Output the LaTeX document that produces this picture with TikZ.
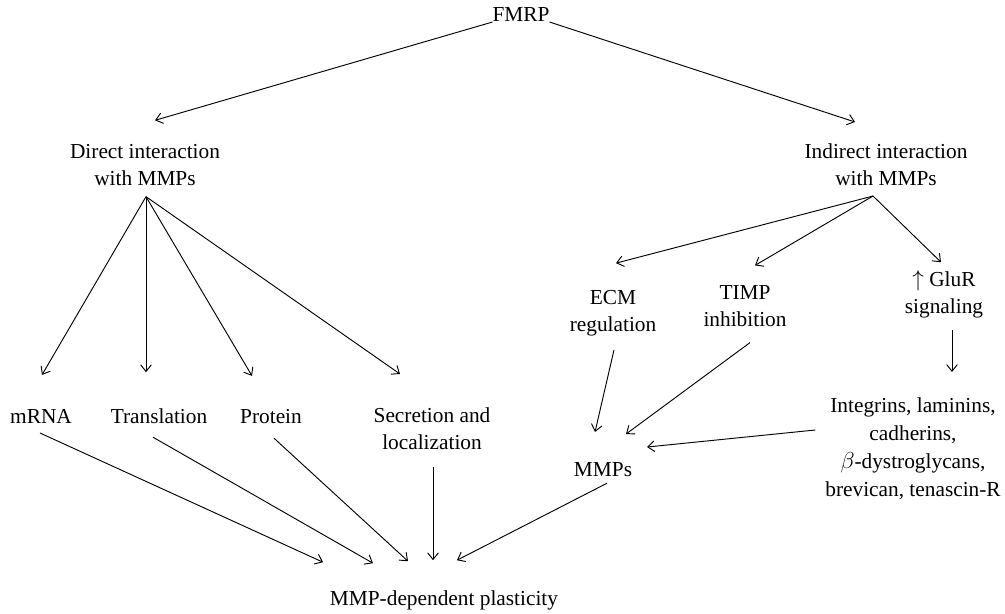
\documentclass[tikz,border=0pt]{standalone}
\usepackage{fontspec}
\setmainfont{Liberation Serif}
\usetikzlibrary{arrows.meta}

\begin{document}
\begin{tikzpicture}[x=0.75pt, y=-0.75pt,
    box/.style={inner sep=0pt, outer sep=0pt, align=center,
      font=\fontsize{16}{20.25}\selectfont},
    link/.style={-{Straight Barb[length=5pt, width=8pt]}, line width=0.7pt}]
  \useasboundingbox (0, 0) rectangle (1005, 613);
  % nodes
  \node [box, anchor=base] (fmrp) at (521, 22) {FMRP};
  \node [box] (direct) at (145, 165) {Direct interaction\\with MMPs};
  \node [box] (indirect) at (886, 165) {Indirect interaction\\with MMPs};
  \node [box, anchor=base] (mrna) at (41, 423) {mRNA};
  \node [box, anchor=base] (transl) at (159, 423) {Translation};
  \node [box, anchor=base] (protein) at (271, 423) {Protein};
  \node [box] (secr) at (432, 429) {Secretion and\\localization};
  \node [box] (ecm) at (613, 313) {ECM\\regulation};
  \node [box] (timp) at (745, 306) {TIMP\\inhibition};
  \node [box] (glur) at (944, 294) {$\uparrow$ GluR\\signaling};
  \node [box, font=\fontsize{16}{21}\selectfont] (integ) at (913, 449)
    {Integrins, laminins,\\cadherins,\\$\beta$-dystroglycans,\\brevican, tenascin-R};
  \node [box, anchor=base] (mmps) at (603, 476) {MMPs};
  \node [box, anchor=base] (plast) at (444, 605) {MMP-dependent plasticity};
  % FMRP
  \draw [link] (fmrp.south west) -- ([shift={(10, -24)}]direct.north);
  \draw [link] (fmrp.south east) -- ([shift={(-31, -22)}]indirect.north);
  % direct branch
  \coordinate (dsplit) at ([shift={(1, 11)}]direct.south);
  \draw [link] (dsplit) -- ([shift={(1, -34)}]mrna.north);
  \draw [link] (dsplit) -- ([shift={(-13, -36)}]transl.north);
  \draw [link] (dsplit) -- ([shift={(-19, -33)}]protein.north);
  \draw [link] (dsplit) -- ([shift={(-32, -34)}]secr.north);
  % indirect branch
  \coordinate (isplit) at ([shift={(-13, 10)}]indirect.south);
  \draw [link] (isplit) -- ([shift={(3, -27)}]ecm.north);
  \draw [link] (isplit) -- ([shift={(10, -20)}]timp.north);
  \draw [link] (isplit) -- ([shift={(-3, -8)}]glur.north);
  \draw [link] ([shift={(8, 12)}]glur.south) -- ([shift={(8, -26)}]glur.south |- integ.north);
  \draw [link] ([shift={(1, 14)}]ecm.south) -- ([shift={(-8, -30)}]mmps.north);
  \draw [link] ([shift={(5, 16)}]timp.south) -- ([shift={(23, -28)}]mmps.north);
  \draw [link] ([shift={(-10, -19)}]integ.west) -- ([shift={(15, -15)}]mmps.north east);
  % to plasticity
  \draw [link] ([shift={(-1, 10)}]mrna.south) -- ([shift={(-121, -28)}]plast.north);
  \draw [link] ([shift={(-6, 14)}]transl.south) -- ([shift={(-71, -27)}]plast.north);
  \draw [link] ([shift={(3, 15)}]protein.south) -- ([shift={(-36, -29)}]plast.north);
  \draw [link] ([shift={(1, 17)}]secr.south) -- ([shift={(-11, -30)}]plast.north);
  \draw [link] ([shift={(4, 7)}]mmps.south) -- ([shift={(13, -30)}]plast.north);
\end{tikzpicture}
\end{document}
